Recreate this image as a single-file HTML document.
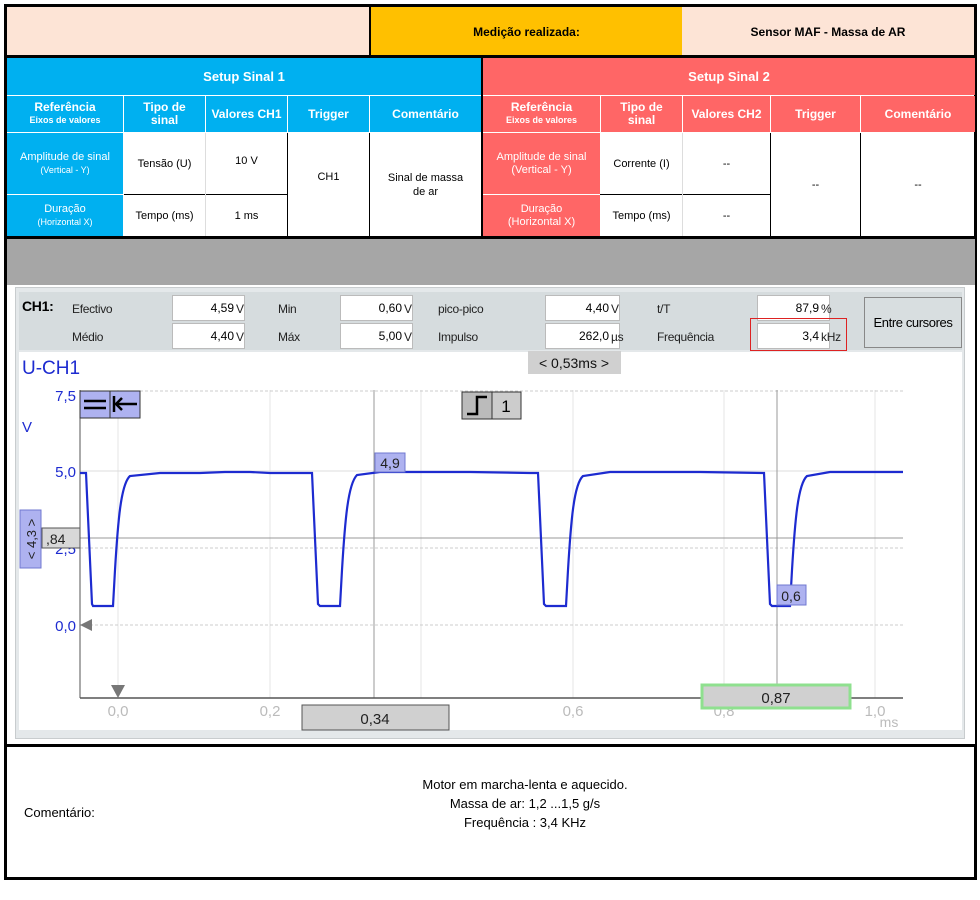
<!DOCTYPE html>
<html><head><meta charset="utf-8"><style>
*{margin:0;padding:0;box-sizing:border-box}
body{width:980px;height:900px;background:#fff;position:relative;font-family:"Liberation Sans",sans-serif;overflow:hidden}
.a{position:absolute}
.c{position:absolute;display:flex;align-items:center;justify-content:center;text-align:center;flex-direction:column}
.w{color:#fff;font-weight:bold;font-size:12px;line-height:13px}
.s{font-size:9px;font-weight:bold}
.d{font-size:11px;color:#000;line-height:14px}
.box{position:absolute;background:#fff;border:1px solid #bbb;font-size:12px;text-align:right;padding-right:10px;line-height:24px;white-space:nowrap}
.lb{position:absolute;font-size:12px;color:#222;white-space:nowrap;letter-spacing:-0.3px}
</style></head><body>
<div class="a" style="left:4px;top:4px;width:973px;height:876px;border:3px solid #000"></div>
<div class="a" style="left:7px;top:7px;width:362px;height:49px;background:#fde4d6"></div>
<div class="c" style="left:371px;top:7px;width:311px;height:49px;background:#ffc000;font-weight:bold;font-size:12px">Medição realizada:</div>
<div class="c" style="left:682px;top:7px;width:292px;height:49px;background:#fde4d6;font-weight:bold;font-size:12px">Sensor MAF - Massa de AR</div>
<div class="a" style="left:369px;top:7px;width:2px;height:49px;background:#000"></div>
<div class="a" style="left:7px;top:55px;width:968px;height:3px;background:#000"></div>
<div class="c w" style="left:7px;top:58px;width:474px;height:37px;background:#00b0f0;font-size:13px">Setup Sinal 1</div>
<div class="c w" style="left:483px;top:58px;width:492px;height:37px;background:#ff6666;font-size:13px">Setup Sinal 2</div>
<div class="a" style="left:481px;top:58px;width:2px;height:180px;background:#000"></div>
<div class="c w" style="left:7px;top:96px;width:116px;height:36px;background:#00b0f0">Referência<span class="s">Eixos de valores</span></div>
<div class="c w" style="left:124px;top:96px;width:81px;height:36px;background:#00b0f0">Tipo de<br>sinal</div>
<div class="c w" style="left:206px;top:96px;width:81px;height:36px;background:#00b0f0">Valores CH1</div>
<div class="c w" style="left:288px;top:96px;width:81px;height:36px;background:#00b0f0">Trigger</div>
<div class="c w" style="left:370px;top:96px;width:111px;height:36px;background:#00b0f0">Comentário</div>
<div class="c w" style="left:483px;top:96px;width:117px;height:36px;background:#ff6666">Referência<span class="s">Eixos de valores</span></div>
<div class="c w" style="left:601px;top:96px;width:81px;height:36px;background:#ff6666">Tipo de<br>sinal</div>
<div class="c w" style="left:683px;top:96px;width:87px;height:36px;background:#ff6666">Valores CH2</div>
<div class="c w" style="left:771px;top:96px;width:89px;height:36px;background:#ff6666">Trigger</div>
<div class="c w" style="left:861px;top:96px;width:114px;height:36px;background:#ff6666">Comentário</div>
<div class="c w" style="left:7px;top:133px;width:116px;height:61px;background:#00b0f0;font-weight:normal;font-size:11px">Amplitude de sinal<span class="s" style="font-weight:normal">(Vertical - Y)</span></div>
<div class="c w" style="left:7px;top:195px;width:116px;height:42px;background:#00b0f0;font-weight:normal;font-size:11px">Duração<span class="s" style="font-weight:normal">(Horizontal X)</span></div>
<div class="c d" style="left:124px;top:133px;width:81px;height:61px">Tensão (U)</div>
<div class="c d" style="left:124px;top:195px;width:81px;height:42px">Tempo (ms)</div>
<div class="c d" style="left:206px;top:133px;width:81px;height:55px">10 V</div>
<div class="c d" style="left:206px;top:195px;width:81px;height:42px">1 ms</div>
<div class="a" style="left:124px;top:194px;width:163px;height:1px;background:#000"></div>
<div class="a" style="left:205px;top:133px;width:1px;height:104px;background:#ddd"></div>
<div class="a" style="left:287px;top:133px;width:1px;height:104px;background:#000"></div>
<div class="c d" style="left:288px;top:133px;width:81px;height:88px">CH1</div>
<div class="a" style="left:369px;top:133px;width:1px;height:104px;background:#000"></div>
<div class="c d" style="left:370px;top:133px;width:111px;height:104px">Sinal de massa<br>de ar</div>
<div class="c w" style="left:483px;top:133px;width:117px;height:61px;background:#ff6666;font-weight:normal;font-size:11px">Amplitude de sinal<br>(Vertical - Y)</div>
<div class="c w" style="left:483px;top:195px;width:117px;height:42px;background:#ff6666;font-weight:normal;font-size:11px">Duração<br>(Horizontal X)</div>
<div class="c d" style="left:601px;top:133px;width:81px;height:61px">Corrente (I)</div>
<div class="c d" style="left:601px;top:195px;width:81px;height:42px">Tempo (ms)</div>
<div class="c d" style="left:683px;top:133px;width:87px;height:61px">--</div>
<div class="c d" style="left:683px;top:195px;width:87px;height:42px">--</div>
<div class="a" style="left:600px;top:194px;width:170px;height:1px;background:#000"></div>
<div class="a" style="left:682px;top:133px;width:1px;height:104px;background:#ddd"></div>
<div class="a" style="left:770px;top:133px;width:1px;height:104px;background:#000"></div>
<div class="a" style="left:860px;top:133px;width:1px;height:104px;background:#000"></div>
<div class="c d" style="left:771px;top:133px;width:89px;height:104px">--</div>
<div class="c d" style="left:861px;top:133px;width:114px;height:104px">--</div>
<div class="a" style="left:7px;top:236px;width:968px;height:3px;background:#000"></div>
<div class="a" style="left:7px;top:239px;width:968px;height:46px;background:#a6a6a6"></div>
<div class="a" style="left:7px;top:285px;width:968px;height:460px;background:#fff"></div>
<div class="a" style="left:15px;top:287px;width:950px;height:452px;background:#e4e8ea;border:1px solid #c8ccce"></div>
<div class="a" style="left:19px;top:292px;width:943px;height:58px;background:#d6dcde"></div>
<div class="lb" style="left:22px;top:298px;font-weight:bold;font-size:14px;color:#000">CH1:</div>
<div class="lb" style="left:72px;top:302px">Efectivo</div>
<div class="lb" style="left:72px;top:330px">Médio</div>
<div class="box" style="left:172px;top:295px;width:73px">4,59</div><div class="lb" style="left:236px;top:302px">V</div>
<div class="box" style="left:172px;top:323px;width:73px">4,40</div><div class="lb" style="left:236px;top:330px">V</div>
<div class="lb" style="left:278px;top:302px">Min</div>
<div class="lb" style="left:278px;top:330px">Máx</div>
<div class="box" style="left:340px;top:295px;width:73px">0,60</div><div class="lb" style="left:404px;top:302px">V</div>
<div class="box" style="left:340px;top:323px;width:73px">5,00</div><div class="lb" style="left:404px;top:330px">V</div>
<div class="lb" style="left:438px;top:302px">pico-pico</div>
<div class="lb" style="left:438px;top:330px">Impulso</div>
<div class="box" style="left:545px;top:295px;width:75px">4,40</div><div class="lb" style="left:611px;top:302px">V</div>
<div class="box" style="left:545px;top:323px;width:75px">262,0</div><div class="lb" style="left:611px;top:330px">µs</div>
<div class="lb" style="left:657px;top:302px">t/T</div>
<div class="lb" style="left:657px;top:330px">Frequência</div>
<div class="box" style="left:757px;top:295px;width:73px">87,9</div><div class="lb" style="left:821px;top:302px">%</div>
<div class="box" style="left:757px;top:323px;width:73px">3,4</div><div class="lb" style="left:821px;top:330px">kHz</div>
<div class="a" style="left:750px;top:318px;width:97px;height:33px;border:1px solid #d22"></div>
<div class="c" style="left:864px;top:297px;width:98px;height:51px;background:#d8dee0;border:1px solid #888;font-size:13px;white-space:nowrap;letter-spacing:-0.4px">Entre cursores</div>
<div class="a" style="left:19px;top:352px;width:943px;height:378px;background:#fff"></div>
<svg class="a" style="left:0;top:0" width="980" height="900" font-family="Liberation Sans, sans-serif">
<text x="22" y="374" font-size="19" fill="#1d2bd0">U-CH1</text>
<rect x="528" y="351" width="93" height="23" fill="#d0d0d0"/>
<text x="574" y="368" font-size="14" text-anchor="middle" fill="#111">&lt; 0,53ms &gt;</text>
<g stroke="#e4e4e4" stroke-width="1">
<line x1="118" y1="390" x2="118" y2="698"/><line x1="270" y1="390" x2="270" y2="698"/><line x1="421" y1="390" x2="421" y2="698"/><line x1="573" y1="390" x2="573" y2="698"/><line x1="724" y1="390" x2="724" y2="698"/><line x1="875" y1="390" x2="875" y2="698"/>
</g>
<g stroke="#ccc" stroke-dasharray="3,2"><line x1="80" y1="391" x2="903" y2="391"/><line x1="80" y1="548" x2="903" y2="548"/><line x1="80" y1="625" x2="903" y2="625"/></g>
<line x1="80" y1="471" x2="903" y2="471" stroke="#ddd"/>
<line x1="374" y1="390" x2="374" y2="698" stroke="#999"/>
<line x1="777" y1="390" x2="777" y2="698" stroke="#999"/>
<line x1="42" y1="538" x2="903" y2="538" stroke="#999"/>
<line x1="80" y1="390" x2="80" y2="698" stroke="#555"/>
<line x1="80" y1="698" x2="903" y2="698" stroke="#555" stroke-width="1.5"/>
<g fill="#1d2bd0" font-size="15" text-anchor="end"><text x="76" y="401">7,5</text><text x="76" y="477">5,0</text><text x="76" y="554">2,5</text><text x="76" y="631">0,0</text></g>
<text x="22" y="432" font-size="15" fill="#1d2bd0">V</text>
<polygon points="80,625 92,619 92,631" fill="#777"/>
<g fill="#bbb" font-size="15" text-anchor="middle"><text x="118" y="716">0,0</text><text x="270" y="716">0,2</text><text x="421" y="716">0,4</text><text x="573" y="716">0,6</text><text x="724" y="716">0,8</text><text x="875" y="716">1,0</text><text x="889" y="727" font-size="14">ms</text></g>
<polygon points="111,685 125,685 118,698" fill="#777"/>
<path d="M80,473 L86,473 L92,604 L93,606 L113,606 L115,570 C118,520 121,484 130,476 L160,473 L200,473 L225,472 L250,472 L270,473 L312,473 L318,604 L320,606 L340,606 L342,570 C345,520 348,484 357,475 L380,472 L420,472 L470,472 L530,473 L538,473 L544,604 L546,606 L566,606 L568,570 C571,520 574,484 583,476 L610,472 L650,472 L700,472 L764,473 L770,604 L772,606 L790,606 L792,570 C795,520 798,484 807,476 L830,472 L903,472" fill="none" stroke="#1d2bd0" stroke-width="2.2"/>
<rect x="80" y="391" width="30" height="27" fill="#aeb2f0" stroke="#333"/><rect x="110" y="391" width="30" height="27" fill="#aeb2f0" stroke="#333"/>
<g stroke="#000" stroke-width="2.5" fill="none"><line x1="84" y1="401" x2="106" y2="401"/><line x1="84" y1="408" x2="106" y2="408"/><line x1="116" y1="404" x2="137" y2="404"/><path d="M122,398 L116,404 L122,410"/><line x1="114" y1="396" x2="114" y2="412"/></g>
<rect x="462" y="392" width="30" height="27" fill="#bbb" stroke="#333"/><rect x="492" y="392" width="29" height="27" fill="#ccc" stroke="#333"/>
<path d="M467,414 L477,414 L477,397 L487,397" stroke="#000" stroke-width="2.5" fill="none"/>
<text x="506" y="412" font-size="17" text-anchor="middle">1</text>
<rect x="375" y="453" width="30" height="19" fill="#aeb2f0" stroke="#7078d0"/><text x="390" y="468" font-size="14" text-anchor="middle" fill="#222">4,9</text>
<rect x="777" y="585" width="29" height="20" fill="#aeb2f0" stroke="#7078d0"/><text x="791" y="601" font-size="14" text-anchor="middle" fill="#222">0,6</text>
<rect x="20" y="510" width="21" height="58" fill="#aeb2f0" stroke="#7078d0"/>
<text transform="translate(36 539) rotate(-90)" font-size="13" text-anchor="middle" fill="#222">&lt; 4,3 &gt;</text>
<rect x="42" y="528" width="38" height="20" fill="#d8d8d8" stroke="#555"/><text x="46" y="544" font-size="14" fill="#222">,84</text>
<rect x="302" y="705" width="147" height="25" fill="#d0d0d0" stroke="#555"/><text x="375" y="724" font-size="15" text-anchor="middle" fill="#222">0,34</text>
<rect x="702" y="685" width="148" height="23" fill="#d0d0d0" stroke="#8fe08f" stroke-width="3"/><text x="776" y="703" font-size="15" text-anchor="middle" fill="#222">0,87</text>
</svg>
<div class="a" style="left:7px;top:744px;width:968px;height:3px;background:#000"></div>
<div class="a" style="left:24px;top:805px;font-size:13px">Comentário:</div>
<div class="a" style="left:325px;top:775px;width:400px;text-align:center;font-size:13px;line-height:19px">Motor em marcha-lenta e aquecido.<br>Massa de ar: 1,2 ...1,5 g/s<br>Frequência : 3,4 KHz</div>
</body></html>
